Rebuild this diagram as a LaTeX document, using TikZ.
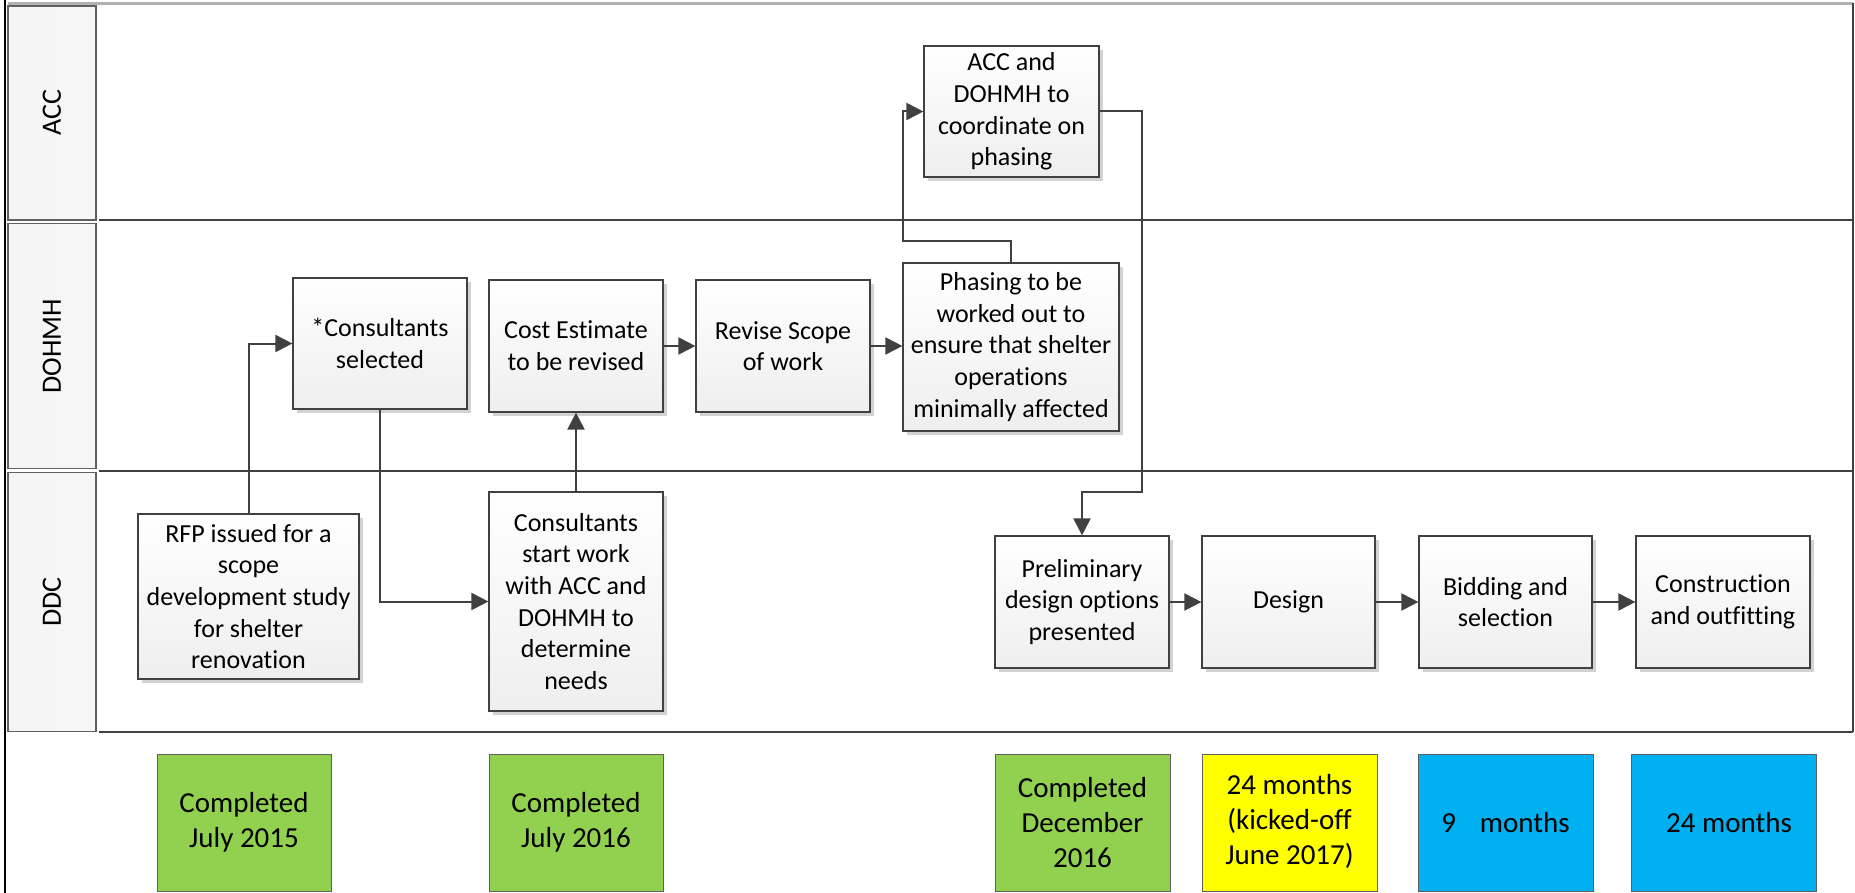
\documentclass[tikz,border=0pt]{standalone}
\usepackage{fontspec}
\setmainfont{Carlito}[Ligatures=NoCommon]
\usetikzlibrary{arrows.meta,shadows}
\definecolor{ln}{HTML}{404040}
\definecolor{cgreen}{HTML}{92D050}
\definecolor{cyellow}{HTML}{FFFF00}
\definecolor{cblue}{HTML}{00B0F0}
\tikzset{
  proc/.style={draw=ln, line width=1.2pt, top color=white, bottom color=gray!13,
    drop shadow={shadow xshift=4pt, shadow yshift=-4pt, fill=gray!35, opacity=1},
    align=center, inner sep=0pt, font=\fontsize{26}{31.7}\selectfont},
  conn/.style={draw=ln, line width=2pt, -{Triangle[length=17pt,width=17pt]}},
  cbox/.style={draw=gray!75!black, line width=0.8pt, minimum width=174pt, minimum height=137pt,
    align=center, inner sep=0pt, font=\fontsize{29}{35.4}\selectfont},
  lanelab/.style={draw=gray!75!black, line width=1.2pt, left color=gray!8, middle color=gray!1, right color=gray!7,
    minimum width=88pt, inner sep=0pt},
  lanetxt/.style={rotate=90, font=\fontsize{28}{34}\selectfont},
  laneline/.style={draw=ln, line width=2pt}
}
\begin{document}
\begin{tikzpicture}[x=1pt,y=-1pt]
\useasboundingbox (0,0) rectangle (1855,893);
\fill[white] (0,0) rectangle (1855,893);

% pool frame
\draw[black, line width=2pt] (5,0) -- (5,893);
\draw[gray!60, line width=2.5pt] (8,3.5) -- (1853,3.5);
\draw[laneline] (1853,3) -- (1853,732);
\draw[laneline] (99,220) -- (1853,220);
\draw[laneline] (99,471) -- (1853,471);
\draw[laneline] (99,732) -- (1853,732);

% lane labels
\node[lanelab, minimum height=214pt] (lACC) at (52,113) {};
\node[lanetxt] (tACC) at (lACC.center) {ACC};
\node[lanelab, minimum height=245pt] (lDOHMH) at (52,346) {};
\node[lanetxt] (tDOHMH) at (lDOHMH.center) {DOHMH};
\node[lanelab, minimum height=259pt] (lDDC) at (52,602) {};
\node[lanetxt] (tDDC) at (lDDC.center) {DDC};

% process boxes
\node[proc, minimum width=175pt, minimum height=131pt] (acc) at (1011.5,111.5) {ACC and\\DOHMH to\\coordinate on\\phasing};
\node[proc, minimum width=174pt, minimum height=131pt] (csel) at (380,343.5) {*Consultants\\selected};
\node[proc, minimum width=174pt, minimum height=132pt] (cost) at (576,346) {Cost Estimate\\to be revised};
\node[proc, minimum width=174pt, minimum height=132pt] (rev) at (783,346) {Revise Scope\\of work};
\node[proc, minimum width=216pt, minimum height=168pt] (phase) at (1011,347) {Phasing to be\\worked out to\\ensure that shelter\\operations\\minimally affected};
\node[proc, minimum width=221pt, minimum height=165pt] (rfp) at (248.5,596.5) {RFP issued for a\\scope\\development study\\for shelter\\renovation};
\node[proc, minimum width=174pt, minimum height=219pt] (cstart) at (576,601.5) {Consultants\\start work\\with ACC and\\DOHMH to\\determine\\needs};
\node[proc, minimum width=174pt, minimum height=132pt] (prel) at (1082,602) {Preliminary\\design options\\presented};
\node[proc, minimum width=173pt, minimum height=132pt] (des) at (1288.5,602) {Design};
\node[proc, minimum width=173pt, minimum height=132pt] (bid) at (1505.5,602) {Bidding and\\selection};
\node[proc, minimum width=174pt, minimum height=132pt] (con) at (1723,602) {Construction\\and outfitting};

% connectors
\draw[conn] (rfp.north) |- (csel.west);
\draw[conn] (csel.south) |- (cstart.west);
\draw[conn] (cstart.north) -- (cost.south);
\draw[conn] (cost.east) -- (rev.west);
\draw[conn] (rev.east) -- (rev.east -| phase.west);
\draw[conn] (phase.north) -- ++(0,-21) -| (903,111.5) -- (acc.west);
\draw[conn] (acc.east) -- (1142,111.5) -- (1142,492) -| (prel.north);
\draw[conn] (prel.east) -- (des.west);
\draw[conn] (des.east) -- (bid.west);
\draw[conn] (bid.east) -- (con.west);

% status boxes
\node[cbox, fill=cgreen] (s1) at (244,822.5) {Completed\\July 2015};
\node[cbox, fill=cgreen] (s2) at (576,822.5) {Completed\\July 2016};
\node[cbox, fill=cgreen, minimum width=175pt] (s3) at (1082.5,822.5) {Completed\\December\\2016};
\node[cbox, fill=cyellow, minimum width=175pt] (s4) at (1289.5,822.5) {\raisebox{4pt}{\begin{tabular}{@{}c@{}}24 months\\(kicked-off\\June 2017)\end{tabular}}};
\node[cbox, fill=cblue, minimum width=175pt] (s5) at (1505.5,822.5) {9\hspace{24pt}months};
\node[cbox, fill=cblue, minimum width=185pt] (s6) at (1723.5,822.5) {\hspace{11pt}24 months};
\end{tikzpicture}
\end{document}
